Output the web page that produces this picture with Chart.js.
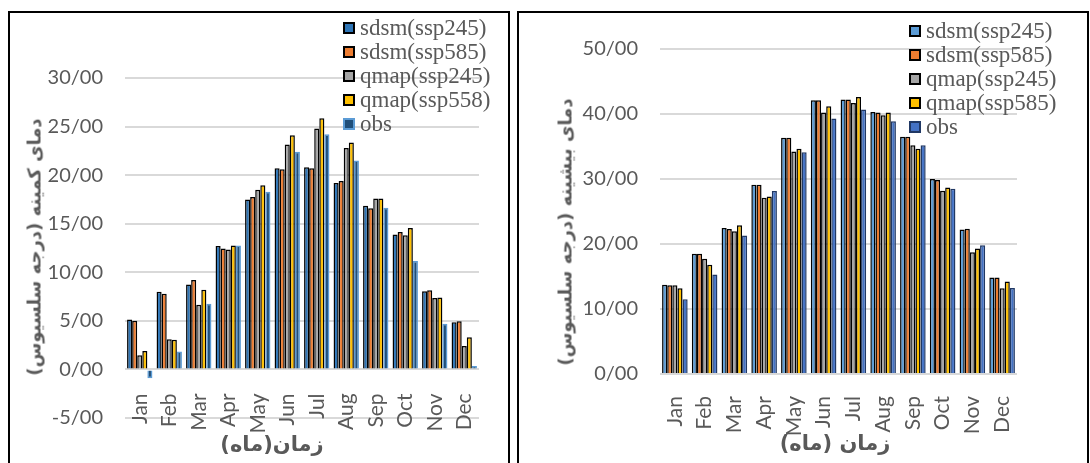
<!DOCTYPE html>
<html>
<head>
<meta charset="utf-8">
<script src="https://cdn.jsdelivr.net/npm/chart.js@4.4.0/dist/chart.umd.min.js"></script>
<style>
  body { margin: 0; width: 1090px; height: 463px; overflow: hidden; background: #fff; position: relative; }
  .panel { position: absolute; box-sizing: border-box; border: 2px solid #000; top: 11px; height: 470px; }
  .panel canvas { position: absolute; left: 0; top: 0; }
  .ttl { position: absolute; font-family: "DejaVu Sans"; font-weight: bold; font-size: 18px; color: #595959; white-space: nowrap; direction: rtl; transform: translate(-50%, -50%); }
  .ttl.v { transform: translate(-50%, -50%) rotate(-90deg); }
  .ttl.h { font-size: 21px; }
  .leg { position: absolute; font-family: "Liberation Serif"; font-size: 23px; color: #595959; line-height: 24px; }
  .leg div { height: 24px; white-space: nowrap; position: relative; padding-left: 17px; }
  .leg span { position: absolute; left: 0; top: 6px; width: 12px; height: 12px; box-sizing: border-box; border: 2px solid #000; }
</style>
</head>
<body>
<div class="panel" style="left:8px; width:502px;"><canvas id="minChart" width="498" height="450"></canvas></div>
<div class="panel" style="left:517px; width:572px;"><canvas id="maxChart" width="568" height="450"></canvas></div>

<div class="ttl v" style="left:34px; top:247px;">دمای کمینه (درجه سلسیوس)</div>
<div class="ttl h" style="left:272px; top:444px;">زمان(ماه)</div>
<div class="ttl v" style="left:565px; top:232px;">دمای بیشینه (درجه سلسیوس)</div>
<div class="ttl h" style="left:835px; top:443px;">زمان (ماه)</div>

<div class="leg" id="minLegend" style="left:343px; top:16px;"></div>
<div class="leg" id="maxLegend" style="left:909px; top:19px;"></div>

<script>
// Months on the x axis
const months = ['Jan', 'Feb', 'Mar', 'Apr', 'May', 'Jun', 'Jul', 'Aug', 'Sep', 'Oct', 'Nov', 'Dec'];

// Minimum temperature (left chart)
const minLabels = ['sdsm(ssp245)', 'sdsm(ssp585)', 'qmap(ssp245)', 'qmap(ssp558)', 'obs'];
const minSdsm245 = [5.15, 8.0, 8.75, 12.7, 17.5, 20.7, 20.8, 19.2, 16.85, 13.9, 8.05, 4.85];
const minSdsm585 = [5.0, 7.8, 9.2, 12.45, 17.75, 20.6, 20.7, 19.4, 16.6, 14.15, 8.15, 4.95];
const minQmap245 = [1.45, 3.1, 6.65, 12.35, 18.5, 23.15, 24.8, 22.8, 17.6, 13.8, 7.35, 2.4];
const minQmap558 = [1.9, 3.05, 8.2, 12.75, 18.95, 24.1, 25.85, 23.35, 17.6, 14.55, 7.4, 3.3];
const minObs     = [-0.9, 1.85, 6.75, 12.75, 18.3, 22.4, 24.2, 21.5, 16.65, 11.15, 4.7, 0.35];
const minTicks = [-5, 0, 5, 10, 15, 20, 25, 30];

// Maximum temperature (right chart)
const maxLabels = ['sdsm(ssp245)', 'sdsm(ssp585)', 'qmap(ssp245)', 'qmap(ssp585)', 'obs'];
const maxSdsm245 = [13.75, 18.5, 22.45, 29.1, 36.35, 42.1, 42.25, 40.3, 36.5, 30.0, 22.25, 14.85];
const maxSdsm585 = [13.65, 18.5, 22.3, 29.1, 36.35, 42.1, 42.25, 40.25, 36.5, 29.85, 22.35, 14.85];
const maxQmap245 = [13.65, 17.75, 21.95, 27.1, 34.25, 40.25, 41.7, 39.8, 35.2, 28.2, 18.75, 13.2];
const maxQmap585 = [13.2, 16.8, 22.9, 27.3, 34.65, 41.2, 42.6, 40.25, 34.65, 28.7, 19.3, 14.25];
const maxObs     = [11.5, 15.3, 21.3, 28.15, 34.1, 39.3, 40.7, 38.9, 35.2, 28.5, 19.8, 13.25];
const maxTicks = [0, 10, 20, 30, 40, 50];

const textGrey = '#595959';
const gridGrey = '#d9d9d9';

const minFills = ['#2E75B6', '#ED7D31', '#A5A5A5', '#FFC000', '#1F4E79'];
const minBorders = ['#000', '#000', '#000', '#000', '#5B9BD5'];
const maxFills = ['#5B9BD5', '#ED7D31', '#A5A5A5', '#FFC000', '#4472C4'];
const maxBorders = ['#000', '#000', '#000', '#000', '#203864'];

function makeDatasets(labels, series, fills, borders) {
  return series.map((data, i) => ({
    label: labels[i],
    data: data,
    backgroundColor: fills[i],
    borderColor: borders[i],
    borderWidth: 1.5,
    categoryPercentage: 0.86,
    barPercentage: 1
  }));
}

function buildLegend(id, labels, fills, borders) {
  const box = document.getElementById(id);
  labels.forEach((lab, i) => {
    const row = document.createElement('div');
    const sw = document.createElement('span');
    sw.style.background = fills[i];
    sw.style.borderColor = borders[i];
    row.appendChild(sw);
    row.appendChild(document.createTextNode(lab));
    box.appendChild(row);
  });
}

function renderChart(canvasId, datasets, ticks, opts) {
  const ctx = document.getElementById(canvasId).getContext('2d');
  return new Chart(ctx, {
    type: 'bar',
    data: { labels: months, datasets: datasets },
    options: {
      responsive: false,
      animation: false,
      events: [],
      layout: { padding: opts.padding },
      plugins: { legend: { display: false }, tooltip: { enabled: false } },
      scales: {
        x: {
          position: opts.xPosition,
          afterFit: function(scale) { if (opts.xHeight) scale.height = opts.xHeight; },
          grid: { display: false },
          border: { display: false },
          ticks: {
            autoSkip: false,
            minRotation: 90,
            maxRotation: 90,
            padding: opts.xPad,
            color: textGrey,
            font: { family: 'Lato', size: 21 }
          }
        },
        y: {
          min: ticks[0],
          max: ticks[ticks.length - 1],
          afterFit: function(scale) { scale.width = opts.yWidth; },
          afterBuildTicks: function(scale) { scale.ticks = ticks.map(v => ({ value: v })); },
          grid: { color: gridGrey, lineWidth: 2, drawTicks: false },
          border: { display: false },
          ticks: {
            padding: 22,
            color: textGrey,
            font: { family: 'Lato', size: 20 },
            callback: function(value) { return value + '/00'; }
          }
        }
      }
    }
  });
}

const minChart = renderChart('minChart',
  makeDatasets(minLabels, [minSdsm245, minSdsm585, minQmap245, minQmap558, minObs], minFills, minBorders),
  minTicks,
  { padding: { left: 0, right: 29, top: 65, bottom: 45 }, yWidth: 115, xPosition: { y: 0 }, xPad: 16 });

const maxChart = renderChart('maxChart',
  makeDatasets(maxLabels, [maxSdsm245, maxSdsm585, maxQmap245, maxQmap585, maxObs], maxFills, maxBorders),
  maxTicks,
  { padding: { left: 0, right: 70, top: 36, bottom: 9 }, yWidth: 141, xPosition: 'bottom', xHeight: 80, xPad: 14 });

buildLegend('minLegend', minLabels, minFills, minBorders);
buildLegend('maxLegend', maxLabels, maxFills, maxBorders);
</script>
</body>
</html>
